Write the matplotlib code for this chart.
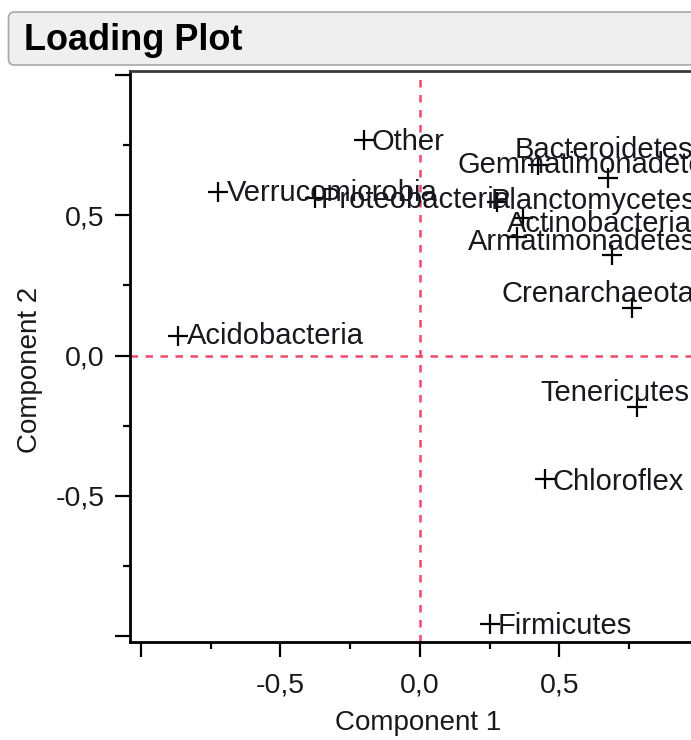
"""
plot.py
=======

Loading plot (component 1 vs component 2) of phylum loadings.

Output:
    out.png
"""

import matplotlib

matplotlib.use("Agg")
import matplotlib.pyplot as plt
from matplotlib.patches import FancyBboxPatch
from matplotlib.ticker import FixedLocator, FuncFormatter

# Loadings
phyla = [
    "Other", "Verrucomicrobia", "Proteobacteria", "Acidobacteria",
    "Firmicutes", "Chloroflex", "Tenericutes", "Crenarchaeota",
    "Bacteroidetes", "Gemmatimonadetes", "Planctomycetes",
    "Actinobacteria", "Armatimonadetes", "",
]
component_1 = [
    -0.20, -0.723, -0.376, -0.867,
    0.252, 0.449, 0.778, 0.761,
    0.675, 0.424, 0.277,
    0.370, 0.348, 0.689,
]
component_2 = [
    0.768, 0.583, 0.561, 0.070,
    -0.957, -0.440, -0.184, 0.169,
    0.633, 0.679, 0.547,
    0.490, 0.423, 0.358,
]

# label placement (offset pixels from the marker, ha=left)
label_offsets = [
    (8, -2), (9, -1), (6, -2), (9, 0),
    (7, -2), (7, -3), (-97, 14), (-131, 14),
    (-94, 28), (-81, 0), (-6, 1),
    (-16, -6), (-49, -5), (0, 0),
]

FONT = ["Liberation Sans", "DejaVu Sans"]
TEXT = "#18181e"
REF = "#f0486a"

plt.rcParams["font.family"] = FONT

W, H = 691, 740
fig = plt.figure(figsize=(W / 100, H / 100), dpi=100)
fig.patch.set_facecolor("white")

# title bar
bar = FancyBboxPatch(
    (8.5, H - 65), 800, 53,
    boxstyle="round,pad=0,rounding_size=6",
    facecolor="#efefef", edgecolor="#a8a8a8", linewidth=1.2,
    transform=None,
)
fig.patches.append(bar)
fig.text(24 / W, 1 - 40 / H, "Loading Plot", fontsize=26,
         fontweight="bold", color="black", ha="left", va="center")

left, right, top, bottom = 130, 691, 71, 642
ax = fig.add_axes([left / W, 1 - bottom / H, (right - left) / W,
                   (bottom - top) / H])
ax.set_xlim(-1.039, 0.972)
ax.set_ylim(-1.021, 1.014)

ax.axhline(0, color=REF, linestyle=(0, (3, 3)), linewidth=1.8, zorder=1)
ax.axvline(0, color=REF, linestyle=(0, (3, 3)), linewidth=1.8, zorder=1)

ax.plot(component_1, component_2, linestyle="none", marker="+",
        markersize=14.5, markeredgewidth=1.6, color="black", zorder=3)

for name, x, y, off in zip(phyla, component_1, component_2, label_offsets):
    if not name:
        continue
    ax.annotate(name, xy=(x, y), xytext=off, textcoords="offset pixels",
                ha="left", va="center", fontsize=21, color=TEXT,
                annotation_clip=False, zorder=4)

# ticks
ax.xaxis.set_major_locator(FixedLocator([-1.0, -0.5, 0.0, 0.5]))
ax.xaxis.set_minor_locator(FixedLocator([-0.75, -0.25, 0.25, 0.75]))
ax.yaxis.set_major_locator(FixedLocator([-1.0, -0.5, 0.0, 0.5, 1.0]))
ax.yaxis.set_minor_locator(FixedLocator([-0.75, -0.25, 0.25, 0.75]))


def comma_fmt(v, pos):
    if abs(abs(v) - 1.0) < 1e-9:
        return ""
    return f"{v:.1f}".replace(".", ",")


ax.xaxis.set_major_formatter(FuncFormatter(comma_fmt))
ax.yaxis.set_major_formatter(FuncFormatter(comma_fmt))
ax.tick_params(which="major", direction="out", length=11, width=1.6,
               labelsize=20.5, labelcolor=TEXT, color="black")
ax.tick_params(which="minor", direction="out", length=5, width=1.6,
               color="black")
ax.tick_params(axis="x", which="major", pad=11)
ax.tick_params(axis="y", which="major", pad=7)

for side in ("left", "bottom"):
    ax.spines[side].set_linewidth(2.0)
    ax.spines[side].set_color("black")
ax.spines["top"].set_linewidth(2.0)
ax.spines["top"].set_color("#3a3a3a")
ax.spines["right"].set_visible(False)

ax.set_xlabel("Component 1", fontsize=20, color=TEXT)
ax.set_ylabel("Component 2", fontsize=20, color=TEXT)
ax.xaxis.set_label_coords((418 - left) / (right - left),
                          -(710 - bottom) / (bottom - top))
ax.yaxis.set_label_coords(-(left - 43) / (right - left),
                          (bottom - 370) / (bottom - top))

fig.savefig("out.png", dpi=100)
plt.close(fig)
